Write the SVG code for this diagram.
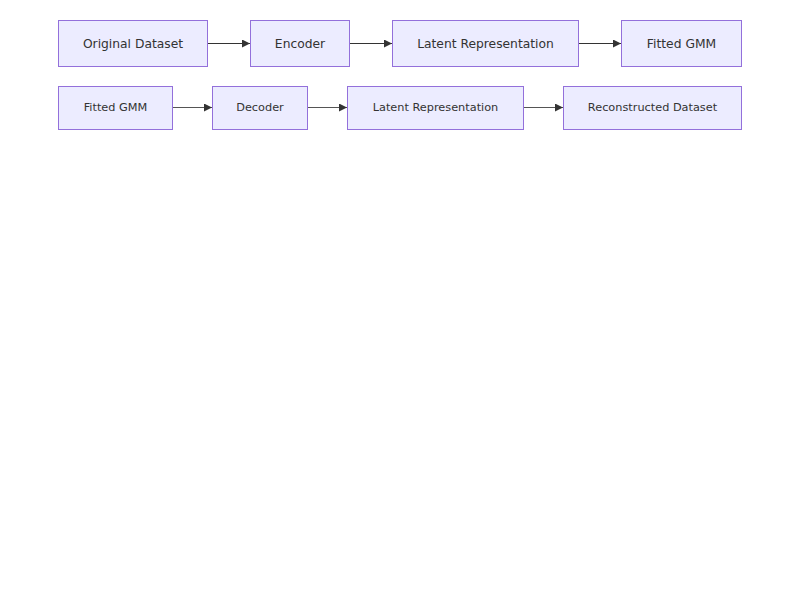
<svg xmlns="http://www.w3.org/2000/svg" width="800" height="600" viewBox="0 0 800 600">
<defs>
<style>
.n rect{fill:#ECECFF;stroke:#9370DB;stroke-width:1}
.n text{font-family:"DejaVu Sans",Verdana,sans-serif;fill:#333;text-anchor:middle;dominant-baseline:central}
.r1 text{font-size:12.3px}
.r2 text{font-size:11.3px}
.e line{stroke:#333;stroke-width:1}
.e2 line{stroke:#555;stroke-width:1}
</style>
<marker id="ah" viewBox="0 0 10 10" refX="10" refY="5" markerWidth="8" markerHeight="8" markerUnits="userSpaceOnUse" orient="auto">
<path d="M0,0 L10,5 L0,10 z" fill="#333"/>
</marker>
</defs>
<rect width="800" height="600" fill="#fff"/>
<g id="connectors">
<g class="e">
<line x1="207.5" y1="43.5" x2="250" y2="43.5" marker-end="url(#ah)"/>
<line x1="349.5" y1="43.5" x2="392" y2="43.5" marker-end="url(#ah)"/>
<line x1="578.5" y1="43.5" x2="621" y2="43.5" marker-end="url(#ah)"/>
</g>
<g class="e2">
<line x1="172.5" y1="107.5" x2="212" y2="107.5" marker-end="url(#ah)"/>
<line x1="307.5" y1="107.5" x2="347" y2="107.5" marker-end="url(#ah)"/>
<line x1="523.5" y1="107.5" x2="563" y2="107.5" marker-end="url(#ah)"/>
</g>
</g>
<g id="n1" class="n r1"><rect x="58.5" y="20.5" width="149" height="46"/><text x="133" y="43.5">Original Dataset</text></g>
<g id="n2" class="n r1"><rect x="250.5" y="20.5" width="99" height="46"/><text x="300" y="43.5">Encoder</text></g>
<g id="n3" class="n r1"><rect x="392.5" y="20.5" width="186" height="46"/><text x="485.5" y="43.5">Latent Representation</text></g>
<g id="n4" class="n r1"><rect x="621.5" y="20.5" width="120" height="46"/><text x="681.5" y="43.5">Fitted GMM</text></g>
<g id="n5" class="n r2"><rect x="58.5" y="86.5" width="114" height="43"/><text x="115.5" y="107.5">Fitted GMM</text></g>
<g id="n6" class="n r2"><rect x="212.5" y="86.5" width="95" height="43"/><text x="260" y="107.5">Decoder</text></g>
<g id="n7" class="n r2"><rect x="347.5" y="86.5" width="176" height="43"/><text x="435.5" y="107.5">Latent Representation</text></g>
<g id="n8" class="n r2"><rect x="563.5" y="86.5" width="178" height="43"/><text x="652.5" y="107.5">Reconstructed Dataset</text></g>
</svg>
